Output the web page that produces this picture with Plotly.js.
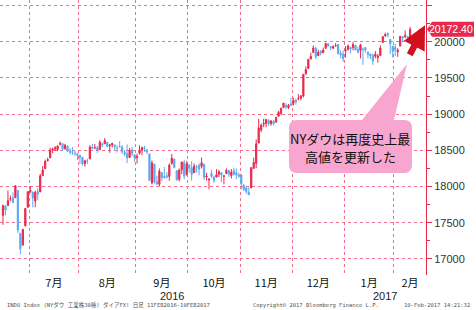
<!DOCTYPE html>
<html><head><meta charset="utf-8">
<script src="https://cdn.plot.ly/plotly-3.0.1.min.js"></script>
<style>html,body{margin:0;padding:0;background:#fff;overflow:hidden}#chart{width:476px;height:310px}</style>
</head><body><div id="chart"></div>
<script>
// ---- data (DJIA daily) ----
const dates = [
'2016-06-16','2016-06-17','2016-06-20','2016-06-21','2016-06-22','2016-06-23','2016-06-24','2016-06-27','2016-06-28','2016-06-29','2016-06-30',
'2016-07-01','2016-07-05','2016-07-06','2016-07-07','2016-07-08','2016-07-11','2016-07-12','2016-07-13','2016-07-14','2016-07-15','2016-07-18','2016-07-19','2016-07-20','2016-07-21','2016-07-22','2016-07-25','2016-07-26','2016-07-27','2016-07-28','2016-07-29',
'2016-08-01','2016-08-02','2016-08-03','2016-08-04','2016-08-05','2016-08-08','2016-08-09','2016-08-10','2016-08-11','2016-08-12','2016-08-15','2016-08-16','2016-08-17','2016-08-18','2016-08-19','2016-08-22','2016-08-23','2016-08-24','2016-08-25','2016-08-26','2016-08-29','2016-08-30','2016-08-31',
'2016-09-01','2016-09-02','2016-09-06','2016-09-07','2016-09-08','2016-09-09','2016-09-12','2016-09-13','2016-09-14','2016-09-15','2016-09-16','2016-09-19','2016-09-20','2016-09-21','2016-09-22','2016-09-23','2016-09-26','2016-09-27','2016-09-28','2016-09-29','2016-09-30',
'2016-10-03','2016-10-04','2016-10-05','2016-10-06','2016-10-07','2016-10-10','2016-10-11','2016-10-12','2016-10-13','2016-10-14','2016-10-17','2016-10-18','2016-10-19','2016-10-20','2016-10-21','2016-10-24','2016-10-25','2016-10-26','2016-10-27','2016-10-28','2016-10-31',
'2016-11-01','2016-11-02','2016-11-03','2016-11-04','2016-11-07','2016-11-08','2016-11-09','2016-11-10','2016-11-11','2016-11-14','2016-11-15','2016-11-16','2016-11-17','2016-11-18','2016-11-21','2016-11-22','2016-11-23','2016-11-25','2016-11-28','2016-11-29','2016-11-30',
'2016-12-01','2016-12-02','2016-12-05','2016-12-06','2016-12-07','2016-12-08','2016-12-09','2016-12-12','2016-12-13','2016-12-14','2016-12-15','2016-12-16','2016-12-19','2016-12-20','2016-12-21','2016-12-22','2016-12-23','2016-12-27','2016-12-28','2016-12-29','2016-12-30',
'2017-01-03','2017-01-04','2017-01-05','2017-01-06','2017-01-09','2017-01-10','2017-01-11','2017-01-12','2017-01-13','2017-01-17','2017-01-18','2017-01-19','2017-01-20','2017-01-23','2017-01-24','2017-01-25','2017-01-26','2017-01-27','2017-01-30','2017-01-31',
'2017-02-01','2017-02-02','2017-02-03','2017-02-06','2017-02-07','2017-02-08','2017-02-09'
];
const openP = [
17602,17733,17736,17827,17845,17845,17946,17355,17190,17456,17713,
17924,17925,17800,17928,17925,18150,18247,18358,18395,18500,18521,18509,18583,18589,18524,18556,18492,18479,18461,18453,
18433,18404,18314,18354,18380,18545,18530,18535,18510,18590,18590,18610,18560,18575,18575,18530,18555,18542,18470,18454,18400,18505,18440,
18400,18460,18500,18530,18500,18450,18050,18310,18070,18030,18190,18140,18150,18140,18320,18380,18220,18100,18230,18330,18170,
18300,18260,18190,18270,18290,18280,18310,18130,18090,18180,18130,18130,18170,18190,18140,18180,18220,18150,18220,18190,18160,
18160,18020,17980,17920,17980,18250,18320,18600,18780,18860,18870,18910,18870,18900,18890,18970,19010,19090,19120,19090,19140,
19150,19190,19210,19220,19250,19560,19630,19760,19850,19910,19810,19870,19850,19910,19970,19930,19910,19943,19960,19840,19830,
19870,19890,19920,19920,19950,19890,19880,19900,19920,19850,19830,19810,19800,19780,19810,19990,20080,20110,20030,19940,
19920,19860,19940,20070,20070,20070,20060
];
const highP = [
17754,17733,17946,17877,17920,18011,17946,17355,17409,17704,17930,
18003,17925,17943,17975,18174,18283,18371,18400,18537,18537,18558,18571,18622,18605,18590,18571,18531,18546,18493,18465,
18433,18404,18369,18385,18571,18590,18588,18560,18638,18605,18668,18610,18589,18602,18575,18567,18628,18570,18504,18581,18535,18550,18440,
18455,18569,18550,18561,18521,18450,18358,18310,18150,18250,18190,18270,18200,18320,18450,18380,18220,18250,18340,18370,18350,
18300,18350,18320,18300,18320,18400,18310,18190,18120,18230,18150,18240,18230,18200,18160,18250,18230,18240,18260,18250,18190,
18170,18030,18010,17990,18270,18400,18650,18935,18870,18935,18935,18930,18920,18920,18960,19043,19083,19153,19150,19140,19225,
19225,19210,19275,19260,19550,19660,19760,19850,19950,19930,19890,19880,19920,19987,19980,19940,19950,19980,19970,19880,19880,
19940,19960,19930,19999,19960,19930,19970,19920,19920,19870,19830,19840,19870,19830,19950,20080,20126,20130,20030,19940,
19970,19910,20081,20070,20155,20080,20206
];
const lowP = [
17471,17602,17736,17799,17770,17845,17356,17063,17190,17456,17712,
17914,17713,17713,17815,17925,18150,18247,18345,18395,18460,18491,18487,18568,18492,18505,18475,18444,18433,18418,18365,
18313,18286,18275,18312,18380,18513,18530,18463,18510,18543,18590,18546,18466,18539,18500,18470,18545,18450,18421,18325,18400,18420,18341,
18318,18442,18432,18478,18450,18085,18029,18040,18023,18000,18075,18110,18110,18080,18300,18250,18080,18070,18170,18100,18150,
18191,18080,18190,18190,18154,18250,18090,18080,17960,18120,18050,18130,18130,18060,18030,18170,18130,18110,18150,18100,18120,
17960,17940,17900,17880,17980,18250,18253,18600,18750,18820,18820,18840,18840,18840,18880,18970,18990,19090,19070,19070,19110,
19120,19130,19190,19190,19230,19540,19630,19760,19850,19760,19800,19810,19840,19900,19930,19880,19900,19930,19830,19770,19720,
19780,19880,19840,19880,19880,19840,19770,19680,19850,19770,19760,19680,19770,19710,19800,19990,20070,20060,19830,19780,
19800,19790,19940,19990,20050,19990,20060
];
const closeP = [
17733,17675,17805,17830,17780,18011,17400,17140,17409,17695,17930,
17949,17841,17919,17896,18147,18227,18347,18372,18506,18517,18534,18559,18595,18518,18571,18493,18473,18472,18456,18432,
18404,18314,18355,18352,18544,18529,18534,18496,18613,18576,18636,18552,18573,18597,18553,18529,18547,18481,18448,18395,18502,18454,18401,
18419,18492,18538,18526,18479,18085,18325,18066,18034,18212,18124,18120,18130,18294,18392,18262,18094,18228,18339,18143,18308,
18254,18168,18281,18269,18240,18329,18129,18144,18099,18138,18087,18162,18203,18162,18146,18223,18170,18200,18170,18161,18142,
18037,17960,17931,17888,18260,18332,18590,18808,18848,18869,18924,18868,18904,18868,18956,19024,19083,19152,19098,19122,19124,
19192,19171,19217,19252,19550,19615,19757,19797,19912,19793,19853,19844,19884,19975,19942,19919,19934,19946,19834,19819,19763,
19882,19943,19899,19964,19888,19856,19954,19891,19886,19826,19804,19732,19827,19800,19913,20069,20100,20094,19971,19864,
19891,19885,20071,20052,20090,20054,20172.40
];
const monthNames = {'01':'1月','02':'2月','03':'3月','04':'4月','05':'5月','06':'6月','07':'7月','08':'8月','09':'9月','10':'10月','11':'11月','12':'12月'};
const yTickVals = [17000,17500,18000,18500,19000,19500,20000,20500];
const yTickText = ['17000','17500','18000','18500','19000','19500','20000',''];
const lastPriceText = '20172.40';
const calloutLines = ['NYダウは再度史上最', '高値を更新した'];
const footerLeft = 'INDU Index (NYダウ 工業株30種) ダイアFX! 日足 11FEB2016-10FEB2017';
const footerMid = 'Copyright© 2017 Bloomberg Finance L.P.';
const footerRight = '10-Feb-2017 14:21:32';

// ---- styles / layout constants ----
const RED = '#e8294c', BLUE = '#5fa9ee', GRID = '#ef6f8c';
const W = 476, H = 310, ML = 0, MR = 50, MT = 0, MB = 35;
const PW = W - ML - MR, PH = H - MT - MB;
const xRange = [-1.2, 170.4];
const yRange = [16778, 20576];

const idx = dates.map((d, i) => i);

// month grouping
const groups = [];
dates.forEach((d, i) => {
  const key = d.slice(0, 7);
  if (!groups.length || groups[groups.length - 1].key !== key) groups.push({key, start: i, end: i});
  else groups[groups.length - 1].end = i;
});
const boundaries = groups.slice(1).map(g => g.start - 0.5);
const labelPos = [], labelText = [];
groups.forEach((g, k) => {
  if (k === 0) return;
  const a = g.start - 0.5;
  const b = k < groups.length - 1 ? groups[k + 1].start - 0.5 : xRange[1];
  labelPos.push((a + b) / 2);
  labelText.push(monthNames[g.key.slice(5, 7)]);
});
// years
const years = [];
dates.forEach((d, i) => {
  const y = d.slice(0, 4);
  if (!years.length || years[years.length - 1].y !== y) years.push({y, start: i, end: i});
  else years[years.length - 1].end = i;
});

const px2x = px => (px - ML) / PW;          // paper x
const py2y = py => 1 - (py - MT) / PH;      // paper y
const v2py = v => MT + PH * (yRange[1] - v) / (yRange[1] - yRange[0]);

const annotations = [];
years.forEach((yr, k) => {
  const a = k === 0 ? xRange[0] : yr.start - 0.5;
  const b = k === years.length - 1 ? xRange[1] : years[k + 1].start - 0.5;
  annotations.push({xref: 'x', yref: 'paper', x: (a + b) / 2, y: py2y(296), text: yr.y, showarrow: false,
    font: {family: 'Liberation Sans, Arial', size: 11, color: '#222'}, xanchor: 'center', yanchor: 'middle'});
});

const lastV = closeP[closeP.length - 1];
const tagY = v2py(lastV);
// price tag text
annotations.push({xref: 'paper', yref: 'y', x: px2x(451), y: lastV, text: lastPriceText, showarrow: false,
  font: {family: 'Liberation Sans, Arial', size: 10.5, color: '#fff'}, xanchor: 'center', yanchor: 'middle'});
// callout text (two lines)
calloutLines.forEach((t, k) => {
  annotations.push({xref: 'paper', yref: 'paper', x: px2x(350), y: py2y(138 + k * 18), text: t, showarrow: false,
    font: {family: 'Noto Sans CJK JP', size: 13, color: '#111'}, xanchor: 'center', yanchor: 'middle'});
});
// red arrow
annotations.push({xref: 'paper', yref: 'paper', x: px2x(425), y: py2y(tagY - 4), ax: -16, ay: 31, text: '',
  showarrow: true, arrowhead: 2, arrowsize: 0.72, arrowwidth: 6.5, arrowcolor: '#d0101c', standoff: 0});
// footer
const ff = {family: 'DejaVu Sans Mono, Noto Sans CJK JP', size: 5.5, color: '#555'};
annotations.push({xref: 'paper', yref: 'paper', x: px2x(5), y: py2y(305), text: footerLeft, showarrow: false, font: ff, xanchor: 'left', yanchor: 'middle'});
annotations.push({xref: 'paper', yref: 'paper', x: px2x(251), y: py2y(305), text: footerMid, showarrow: false, font: ff, xanchor: 'left', yanchor: 'middle'});
annotations.push({xref: 'paper', yref: 'paper', x: px2x(472), y: py2y(305), text: footerRight, showarrow: false, font: ff, xanchor: 'right', yanchor: 'middle'});

// shapes: callout bubble and price tag
function pathFromPx(pts) {
  return pts.map(p => {
    if (p[0] === 'Z') return 'Z';
    const c = p[0];
    const rest = [];
    for (let i = 1; i < p.length; i += 2) rest.push(px2x(p[i]).toFixed(5) + ',' + py2y(p[i + 1]).toFixed(5));
    return c + rest.join(' ');
  }).join(' ');
}
const bx0 = 289, bx1 = 412, by0 = 120, by1 = 173, r = 8;
const bubble = pathFromPx([
  ['M', bx0 + r, by0], ['L', 362, by0], ['L', 407, 64], ['L', 394, by0], ['L', bx1 - r, by0],
  ['Q', bx1, by0, bx1, by0 + r], ['L', bx1, by1 - r], ['Q', bx1, by1, bx1 - r, by1],
  ['L', bx0 + r, by1], ['Q', bx0, by1, bx0, by1 - r], ['L', bx0, by0 + r], ['Q', bx0, by0, bx0 + r, by0], ['Z']
]);
const tag = pathFromPx([
  ['M', 427, tagY], ['L', 432, tagY - 7.5], ['L', 474, tagY - 7.5], ['L', 474, tagY + 7.5], ['L', 432, tagY + 7.5], ['Z']
]);
const shapes = [
  {type: 'path', xref: 'paper', yref: 'paper', path: bubble, fillcolor: '#f8a6cf', line: {width: 0}, layer: 'above'},
  {type: 'path', xref: 'paper', yref: 'paper', path: tag, fillcolor: RED, line: {width: 0}, layer: 'above'}
];

const trace = {
  type: 'candlestick', x: idx, open: openP, high: highP, low: lowP, close: closeP,
  increasing: {line: {color: RED, width: 1}, fillcolor: RED},
  decreasing: {line: {color: BLUE, width: 1}, fillcolor: BLUE},
  whiskerwidth: 0, hoverinfo: 'skip', showlegend: false
};

const layout = {
  width: W, height: H, margin: {l: ML, r: MR, t: MT, b: MB, pad: 0},
  paper_bgcolor: '#fff', plot_bgcolor: '#fff', showlegend: false,
  xaxis: {type: 'linear', range: xRange, tickmode: 'array', tickvals: labelPos, ticktext: labelText,
    showgrid: false, zeroline: false, showline: false, ticks: '', ticklen: 0,
    tickfont: {family: 'Noto Sans CJK JP', size: 11, color: '#111'},
    rangeslider: {visible: false}, fixedrange: true,
    minor: {tickmode: 'array', tickvals: boundaries, showgrid: true, gridcolor: GRID, griddash: 'dot', gridwidth: 1, ticks: ''}},
  yaxis: {side: 'right', range: yRange, tickmode: 'array', tickvals: yTickVals, ticktext: yTickText,
    showgrid: true, gridcolor: GRID, griddash: 'dot', gridwidth: 1, zeroline: false,
    showline: true, linecolor: RED, linewidth: 1, ticks: 'outside', ticklen: 5, tickcolor: RED, tickwidth: 1,
    tickfont: {family: 'Liberation Sans, Arial', size: 11, color: '#333'}, fixedrange: true,
    minor: {tickmode: 'linear', tick0: 16750, dtick: 250, ticks: 'outside', ticklen: 3, tickcolor: RED, showgrid: false}},
  annotations, shapes
};

Plotly.newPlot('chart', [trace], layout, {staticPlot: true, displayModeBar: false});
</script></body></html>
